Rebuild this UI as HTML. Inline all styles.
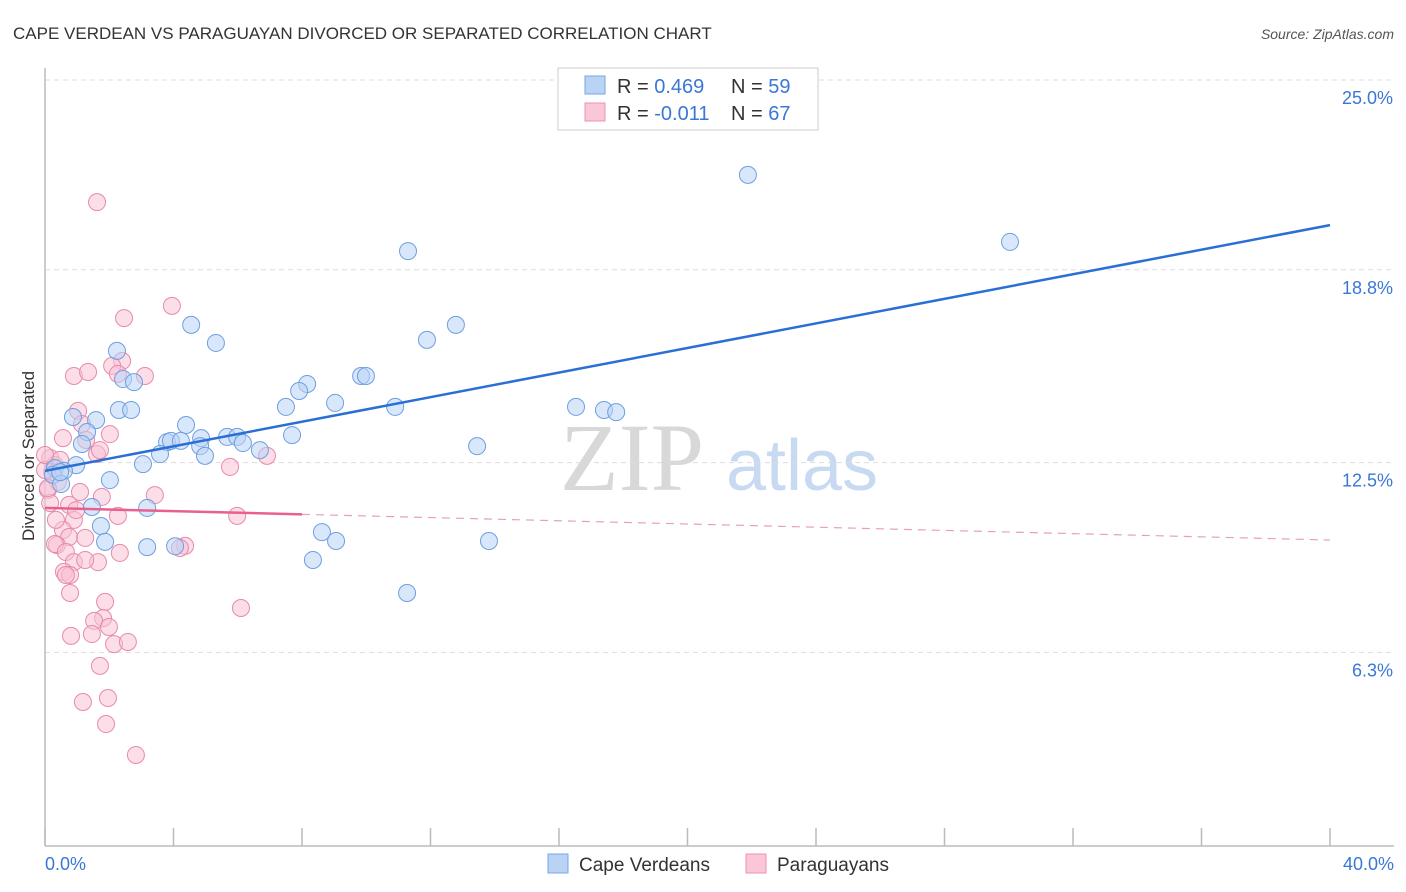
<!DOCTYPE html>
<html><head><meta charset="utf-8"><style>
body{margin:0;background:#fff;font-family:"Liberation Sans",sans-serif}
svg{display:block}
</style></head><body>
<svg id="chart" width="1406" height="892" xmlns="http://www.w3.org/2000/svg">
<text x="13" y="39" font-size="17" fill="#333">CAPE VERDEAN VS PARAGUAYAN DIVORCED OR SEPARATED CORRELATION CHART</text>
<text x="1394" y="39" font-size="14" fill="#555" text-anchor="end" font-style="italic">Source: ZipAtlas.com</text>
<g>
<text x="632" y="490" font-size="96" fill="#d8d8d8" font-family="Liberation Serif,serif" text-anchor="middle">ZIP</text>
<text x="802" y="490" font-size="72" fill="#c8daf2" text-anchor="middle">atlas</text>
</g>
<g id="grid"></g>
<g id="axes"></g>
<g id="pts"></g>
<g id="trend"></g>
<g>
<rect x="558" y="68" width="260" height="62" fill="#fff" stroke="#ccc"/>
<rect x="585" y="76" width="20" height="18" fill="#b9d3f5" stroke="#7aa6e0"/>
<rect x="585" y="103" width="20" height="18" fill="#fbc6d7" stroke="#eb93b1"/>
<text x="617" y="93" font-size="20" fill="#333">R = <tspan fill="#3a77d6">0.469</tspan></text>
<text x="731" y="93" font-size="20" fill="#333">N = <tspan fill="#3a77d6">59</tspan></text>
<text x="617" y="120" font-size="20" fill="#333">R = <tspan fill="#3a77d6">-0.011</tspan></text>
<text x="731" y="120" font-size="20" fill="#333">N = <tspan fill="#3a77d6">67</tspan></text>
</g>
<text x="34" y="456" font-size="17" fill="#333" text-anchor="middle" transform="rotate(-90 34 456)">Divorced or Separated</text>
<text x="45" y="870" font-size="18" fill="#3a77d6">0.0%</text>
<text x="1394" y="870" font-size="18" fill="#3a77d6" text-anchor="end">40.0%</text>
<g>
<rect x="548" y="854" width="20" height="19" fill="#b9d3f5" stroke="#7aa6e0"/>
<text x="579" y="871" font-size="19" fill="#333">Cape Verdeans</text>
<rect x="746" y="854" width="20" height="19" fill="#fbc6d7" stroke="#eb93b1"/>
<text x="777" y="871" font-size="19" fill="#333">Paraguayans</text>
</g>
</svg>
<script>
const yTicks=[25.0,18.8,12.5,6.3];
const yTickLabels=["25.0%","18.8%","12.5%","6.3%"];
const xTicks=[0,4,8,12,16,20,24,28,32,36,40];
const blueX=[21.88,30.04,11.30,4.55,12.79,11.89,5.32,2.24,2.43,2.77,8.16,7.91,9.84,9.99,9.03,7.50,10.90,16.53,17.40,17.78,2.30,2.68,0.87,1.59,4.39,1.31,1.15,3.80,3.92,4.23,4.86,5.67,5.98,7.69,4.83,6.16,6.69,3.58,4.98,13.45,3.05,0.97,0.31,0.59,0.25,2.02,0.50,1.46,3.18,1.74,8.62,1.87,9.06,13.82,3.18,4.05,8.34,11.27,0.47];
const blueY=[21.90,19.71,19.41,17.00,17.00,16.51,16.41,16.15,15.23,15.13,15.07,14.84,15.33,15.33,14.45,14.32,14.32,14.32,14.22,14.15,14.22,14.22,13.99,13.89,13.73,13.50,13.11,13.17,13.21,13.21,13.30,13.34,13.34,13.40,13.04,13.14,12.91,12.78,12.72,13.04,12.45,12.42,12.32,12.23,12.10,11.93,11.80,11.05,11.02,10.43,10.23,9.91,9.94,9.94,9.74,9.77,9.32,8.24,12.19];
const pinkX=[1.62,3.95,2.46,2.40,2.09,0.90,1.34,2.27,3.11,1.03,1.15,2.02,0.56,1.28,1.62,5.76,6.91,0.16,0.31,0.22,0.40,0.09,0.16,1.09,0.75,3.42,1.77,2.27,5.98,0.90,0.97,0.56,0.75,1.25,0.37,0.31,1.65,2.33,0.65,0.90,0.59,0.78,0.78,4.36,6.10,1.87,1.81,1.53,1.99,0.81,1.46,2.15,2.58,1.71,1.96,1.18,1.90,2.83,1.71,0,0.09,0.47,0,0.34,1.25,4.20,0.65];
const pinkY=[21.01,17.62,17.22,15.82,15.66,15.33,15.46,15.40,15.33,14.19,13.76,13.43,13.30,13.24,12.78,12.36,12.72,12.65,12.42,12.19,11.87,11.61,11.18,11.54,11.12,11.44,11.38,10.76,10.76,10.63,10.95,10.30,10.07,10.04,9.81,9.84,9.25,9.55,9.58,9.25,8.93,8.83,8.24,9.78,7.75,7.95,7.42,7.33,7.13,6.84,6.90,6.57,6.64,5.86,4.81,4.68,3.96,2.95,12.91,12.26,11.67,12.59,12.75,10.63,9.32,9.71,8.83];
const blueTrend=[12.23,20.26];
const pinkTrend=[11.02,9.97];
const pinkSolidEnd=8;
const NS="http://www.w3.org/2000/svg";
const X=v=>45+v*32.125, Y=v=>80+(25-v)*30.61;
function mk(tag,attrs,parent){const e=document.createElementNS(NS,tag);for(const k in attrs)e.setAttribute(k,attrs[k]);parent.appendChild(e);return e;}
const grid=document.getElementById('grid'),axes=document.getElementById('axes'),pts=document.getElementById('pts'),tr=document.getElementById('trend');
yTicks.forEach((t,i)=>{
 const l=mk('line',{x1:45,x2:1394,y1:Y(t),y2:Y(t),stroke:'#ddd','stroke-dasharray':'5,4'},grid);
 
 
 const tx=mk('text',{x:1393,y:Y(t)+24,'font-size':18,fill:'#3a77d6','text-anchor':'end'},grid);
 tx.textContent=yTickLabels[i];
 
 
});
const ya=mk('line',{x1:45,x2:45,y1:68,y2:846,stroke:'#bbb','stroke-width':1.5},axes);


const xa=mk('line',{x1:45,x2:1394,y1:846,y2:846,stroke:'#bbb','stroke-width':1.5},axes);


xTicks.forEach(t=>{
 const l=mk('line',{x1:X(t),x2:X(t),y1:828,y2:846,stroke:'#bbb','stroke-width':1.5},axes);
 
 
});
function dots(xs,ys,fill,stroke,name){
 xs.forEach((x,i)=>{
  const c=mk('circle',{cx:X(x),cy:Y(ys[i]),r:8.5,fill:fill,'fill-opacity':0.55,stroke:stroke,'stroke-width':1},pts);
  
  
 });
}
dots(pinkX,pinkY,'#f8c3d5','#e88aab','paraguayan-point');
dots(blueX,blueY,'#b9d3f5','#6e9fe0','cape-verdean-point');
const bl=mk('line',{x1:X(0),y1:Y(blueTrend[0]),x2:X(40),y2:Y(blueTrend[1]),stroke:'#2a6fd6','stroke-width':2.5},tr);


const pAt=x=>pinkTrend[0]+(pinkTrend[1]-pinkTrend[0])*x/40;
const ps=mk('line',{x1:X(0),y1:Y(pAt(0)),x2:X(pinkSolidEnd),y2:Y(pAt(pinkSolidEnd)),stroke:'#e8608e','stroke-width':2.5},tr);


const pd=mk('line',{x1:X(pinkSolidEnd),y1:Y(pAt(pinkSolidEnd)),x2:X(40),y2:Y(pAt(40)),stroke:'#e8a0b8','stroke-width':1.2,'stroke-dasharray':'8,6'},tr);


</script>
</body></html>
